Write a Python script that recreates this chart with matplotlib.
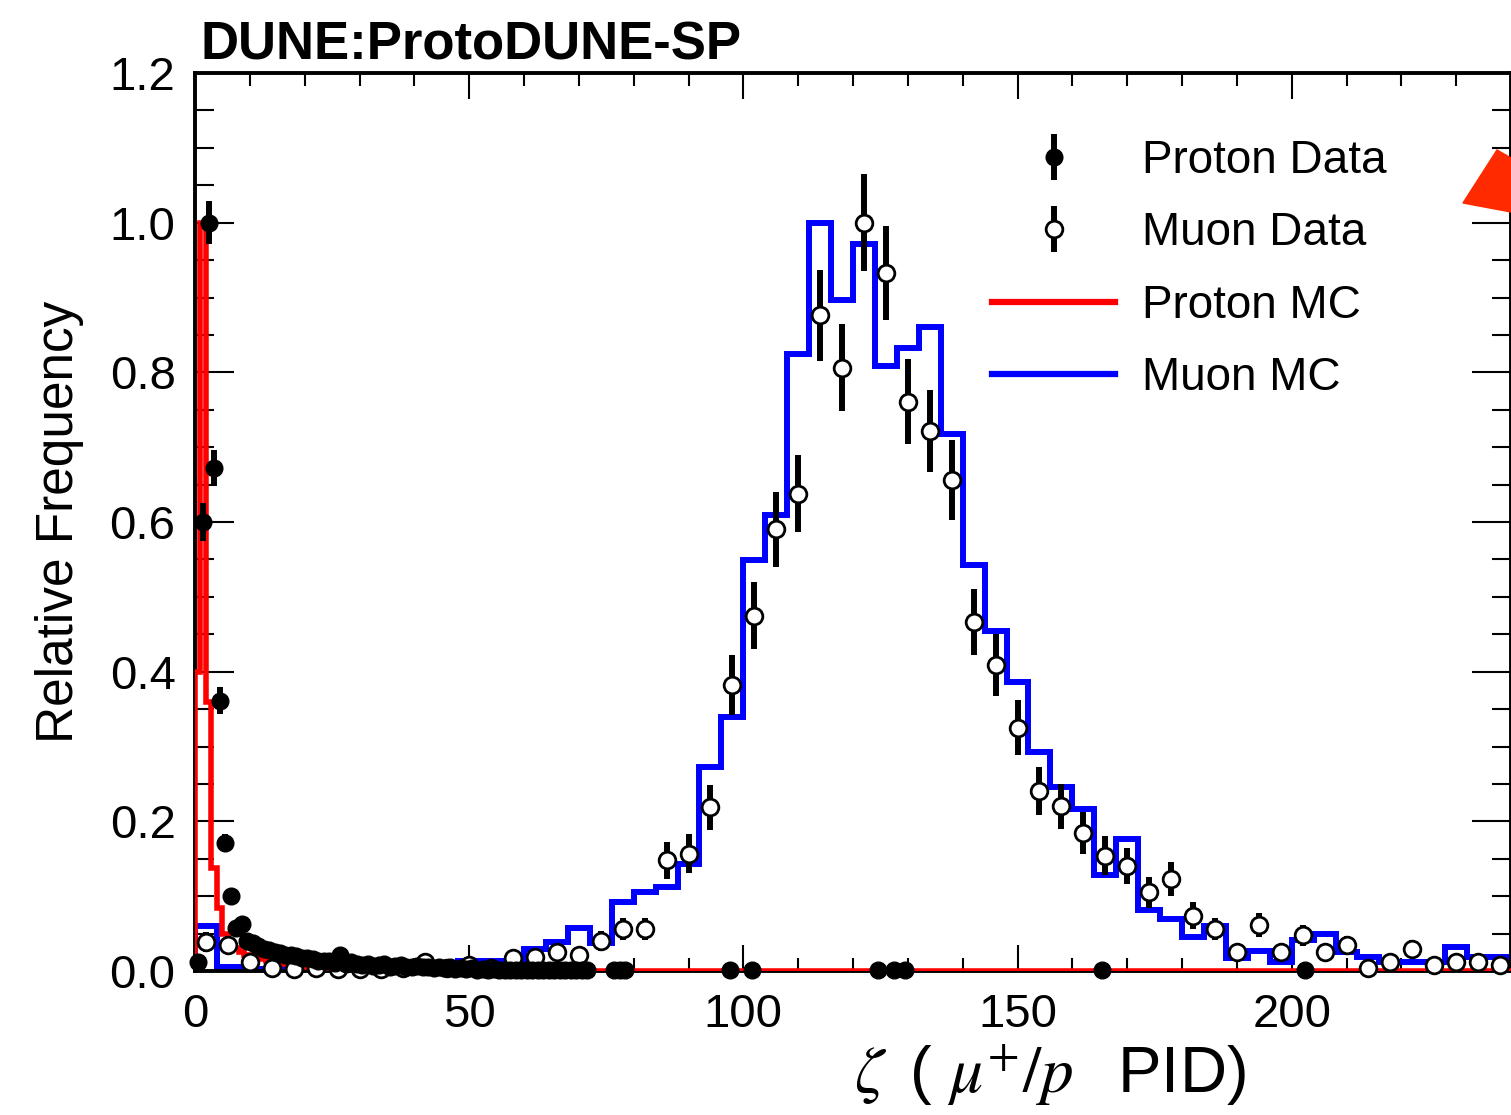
import numpy as np
import matplotlib
matplotlib.use("Agg")
import matplotlib.pyplot as plt
from matplotlib.patches import Polygon
from matplotlib.ticker import MultipleLocator, FormatStrFormatter
from matplotlib.lines import Line2D

plt.rcParams['font.family'] = ['Liberation Sans', 'DejaVu Sans']
plt.rcParams['mathtext.fontset'] = 'stix'

# ---------------- data ----------------
# Muon MC: 4-unit bins from 0 to 240
muon_mc_edges = list(range(0, 241, 4))
muon_mc = [0.060, 0.006, 0.003, 0.003, 0.003, 0.003, 0.003, 0.003, 0.003, 0.003,
           0.003, 0.004, 0.014, 0.014, 0.014, 0.030, 0.039, 0.057, 0.038, 0.092,
           0.106, 0.112, 0.143, 0.273, 0.339, 0.549, 0.610, 0.824, 1.000, 0.896,
           0.972, 0.809, 0.833, 0.860, 0.717, 0.543, 0.455, 0.386, 0.292, 0.246,
           0.217, 0.128, 0.177, 0.082, 0.069, 0.045, 0.060, 0.017, 0.027, 0.012,
           0.042, 0.050, 0.026, 0.019, 0.012, 0.012, 0.012, 0.032, 0.019, 0.019]

# Proton MC: 1-unit bins from 0 to 80, then one flat bin to 240
proton_mc_edges = list(range(0, 81)) + [240]
proton_mc = [0.400, 1.000, 0.360, 0.137, 0.084, 0.050, 0.039, 0.031, 0.025, 0.022,
             0.020, 0.018, 0.016, 0.014, 0.012, 0.010, 0.009, 0.008, 0.007, 0.006,
             0.005, 0.004, 0.004, 0.004, 0.004, 0.003, 0.003, 0.003, 0.003, 0.003,
             0.002, 0.002, 0.002, 0.002, 0.002, 0.002, 0.002, 0.002, 0.002, 0.002,
             0.002, 0.002, 0.002, 0.002, 0.002, 0.002, 0.002, 0.002, 0.002, 0.002,
             0.001, 0.001, 0.001, 0.001, 0.001, 0.001, 0.001, 0.001, 0.001, 0.001,
             0.001, 0.001, 0.001, 0.001, 0.001, 0.001, 0.001, 0.001, 0.001, 0.001,
             0.0005, 0.0005, 0.0005, 0.0005, 0.0005, 0.0005, 0.0005, 0.0005, 0.0005, 0.0005,
             0.0005]

# Muon data: 4-unit bin centres
muon_x = [2, 6, 10, 14, 18, 22, 26, 30, 34, 38, 42, 46, 50, 54, 58, 62, 66, 70, 74, 78,
          82, 86, 90, 94, 98, 102, 106, 110, 114, 118, 122, 126, 130, 134, 138, 142,
          146, 150, 154, 158, 162, 166, 170, 174, 178, 182, 186, 190, 194, 198, 202,
          206, 210, 214, 218, 222, 226, 230, 234, 238]
muon_y = [0.039, 0.035, 0.012, 0.004, 0.003, 0.004, 0.003, 0.003, 0.003, 0.004,
          0.012, 0.004, 0.008, 0.004, 0.017, 0.019, 0.026, 0.021, 0.040, 0.056,
          0.056, 0.148, 0.157, 0.219, 0.382, 0.475, 0.590, 0.638, 0.876, 0.806,
          1.000, 0.933, 0.761, 0.722, 0.656, 0.466, 0.409, 0.325, 0.241, 0.220,
          0.184, 0.154, 0.140, 0.105, 0.123, 0.074, 0.056, 0.026, 0.061, 0.026,
          0.048, 0.026, 0.035, 0.004, 0.012, 0.030, 0.008, 0.012, 0.012, 0.008]
muon_err = [0.013, 0.012, 0.007, 0.004, 0.004, 0.004, 0.004, 0.004, 0.004, 0.004,
            0.007, 0.004, 0.006, 0.004, 0.008, 0.009, 0.010, 0.009, 0.013, 0.015,
            0.015, 0.025, 0.026, 0.030, 0.040, 0.045, 0.050, 0.052, 0.061, 0.058,
            0.065, 0.063, 0.057, 0.055, 0.053, 0.044, 0.042, 0.037, 0.032, 0.030,
            0.028, 0.026, 0.024, 0.021, 0.023, 0.018, 0.015, 0.010, 0.016, 0.010,
            0.014, 0.010, 0.012, 0.004, 0.007, 0.011, 0.006, 0.007, 0.007, 0.006]

# Proton data: 1-unit bin centres
proton_x = [0.5, 1.5, 2.5, 3.5, 4.5, 5.5, 6.5, 7.5, 8.5, 9.5,
            10.5, 11.5, 12.5, 13.5, 14.5, 15.5, 16.5, 17.5, 18.5, 19.5,
            20.5, 21.5, 22.5, 23.5, 24.5, 25.5, 26.5, 27.5, 28.5, 29.5,
            30.5, 31.5, 32.5, 33.5, 34.5, 35.5, 36.5, 37.5, 38.5, 39.5,
            40.5, 41.5, 42.5, 43.5, 44.5, 45.5, 46.5, 47.5, 48.5, 49.5,
            50.5, 51.5, 52.5, 53.5, 54.5, 55.5, 56.5, 57.5, 58.5, 59.5,
            60.5, 61.5, 62.5, 63.5, 64.5, 65.5, 66.5, 67.5, 68.5, 69.5,
            70.5, 71.5, 76.5, 77.5, 78.5, 97.5, 101.5, 124.5, 127.5, 129.5,
            165.5, 202.5]
proton_y = [0.012, 0.600, 1.000, 0.672, 0.361, 0.171, 0.100, 0.057, 0.063, 0.040,
            0.038, 0.034, 0.030, 0.028, 0.026, 0.024, 0.022, 0.021, 0.020, 0.018,
            0.018, 0.016, 0.014, 0.013, 0.014, 0.011, 0.022, 0.010, 0.012, 0.009,
            0.008, 0.010, 0.007, 0.008, 0.009, 0.006, 0.007, 0.008, 0.005, 0.006,
            0.007, 0.005, 0.006, 0.004, 0.005, 0.004, 0.005, 0.003, 0.004, 0.003,
            0.004, 0.002, 0.003, 0.002, 0.003, 0.002, 0.002, 0.001, 0.002, 0.002,
            0.001, 0.001, 0.002, 0.001, 0.001, 0.001, 0.001, 0.001, 0.001, 0.001,
            0.001, 0.001, 0.001, 0.001, 0.001, 0.001, 0.001, 0.001, 0.001, 0.001,
            0.001, 0.001]
proton_err = [0.004, 0.025, 0.029, 0.024, 0.018, 0.012, 0.009, 0.007, 0.007, 0.006,
              0.006, 0.005, 0.005, 0.005, 0.005, 0.005, 0.004, 0.004, 0.004, 0.004,
              0.004, 0.004, 0.004, 0.003, 0.004, 0.003, 0.004, 0.003, 0.003, 0.003,
              0.003, 0.003, 0.002, 0.003, 0.003, 0.002, 0.002, 0.003, 0.002, 0.002,
              0.002, 0.002, 0.002, 0.002, 0.002, 0.002, 0.002, 0.002, 0.002, 0.002,
              0.002, 0.001, 0.002, 0.001, 0.002, 0.001, 0.001, 0.001, 0.001, 0.001,
              0.001, 0.001, 0.001, 0.001, 0.001, 0.001, 0.001, 0.001, 0.001, 0.001,
              0.001, 0.001, 0.001, 0.001, 0.001, 0.001, 0.001, 0.001, 0.001, 0.001,
              0.001, 0.001]

x_ticks = [0, 50, 100, 150, 200]
y_ticks = [0.0, 0.2, 0.4, 0.6, 0.8, 1.0, 1.2]

# ---------------- figure ----------------
W, H = 1511, 1115
fig = plt.figure(figsize=(W / 100, H / 100), dpi=100)
ax = fig.add_axes([195 / W, 1 - 971 / H, (1511 - 195) / W, (971 - 73) / H])

ax.stairs(muon_mc, muon_mc_edges, color='#0000ff', lw=4.3, zorder=2)
ax.stairs(proton_mc, proton_mc_edges, color='#ff0000', lw=4.0, zorder=3)

eb_mu = ax.errorbar(muon_x, muon_y, yerr=muon_err, fmt='o', ms=12, mfc='white', mec='black',
                    mew=2.0, ecolor='black', elinewidth=4.3, capsize=0, zorder=5,
                    clip_on=False)
eb_p = ax.errorbar(proton_x, proton_y, yerr=proton_err, fmt='o', ms=12, mfc='black', mec='black',
                   mew=1.0, ecolor='black', elinewidth=4.3, capsize=0, zorder=6,
                   clip_on=False)

ax.set_xlim(0, 240)
ax.set_ylim(0, 1.2)
ax.set_xticks(x_ticks)
ax.set_yticks(y_ticks)
ax.xaxis.set_minor_locator(MultipleLocator(10))
ax.yaxis.set_minor_locator(MultipleLocator(0.05))
ax.yaxis.set_major_formatter(FormatStrFormatter('%.1f'))
ax.xaxis.set_major_formatter(FormatStrFormatter('%d'))

ax.tick_params(axis='both', which='both', direction='in', top=True, right=True,
               width=1.5, labelsize=34, colors='black')
ax.tick_params(axis='x', which='major', length=19, pad=16)
ax.tick_params(axis='x', which='minor', length=9.5)
ax.tick_params(axis='y', which='major', length=28, pad=14)
ax.tick_params(axis='y', which='minor', length=14)
for s in ax.spines.values():
    s.set_linewidth(2.8)

# legend
h_pmc = Line2D([], [], color='#ff0000', lw=4.5)
h_mmc = Line2D([], [], color='#0000ff', lw=4.5)
leg = ax.legend([eb_p, eb_mu, h_pmc, h_mmc],
                ['Proton Data', 'Muon Data', 'Proton MC', 'Muon MC'],
                loc='upper left', bbox_to_anchor=(992 / W, 1 - 139 / H),
                bbox_transform=fig.transFigure, frameon=False, fontsize=33,
                handlelength=2.69, handletextpad=0.59, labelspacing=0.62,
                borderpad=0, borderaxespad=0)

# texts
fig.text(200 / W, 1 - 60 / H, 'DUNE:ProtoDUNE-SP', fontsize=38, fontweight='bold',
         ha='left', va='baseline')
fig.text(60 / W, 1 - 522 / H, 'Relative Frequency', fontsize=37, rotation=90,
         ha='center', va='center')
fig.text(1050 / W, 1 - 1093 / H, r'$\zeta\,$ ( $\mu^{+}/p\;\;$ PID)', fontsize=47,
         ha='center', va='baseline')

# red corner mark
tri = Polygon([(1463 / W, 1 - 203 / H), (1497 / W, 1 - 150 / H), (1511 / W, 1 - 158 / H),
               (1511 / W, 1 - 212 / H)],
              closed=True, transform=fig.transFigure, facecolor='#ff2a00',
              edgecolor='#ff2a00', lw=1, zorder=10)
fig.patches.append(tri)

fig.savefig('out.png', dpi=100)
